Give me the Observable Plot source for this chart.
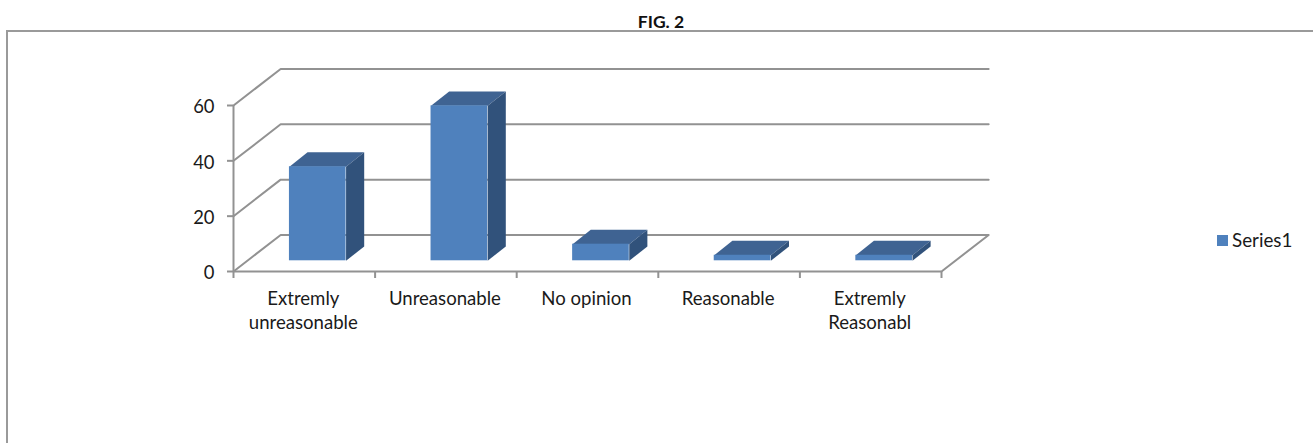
<!DOCTYPE html>
<html>
<head>
<meta charset="utf-8">
<script src="https://cdn.jsdelivr.net/npm/d3@7"></script>
<script src="https://cdn.jsdelivr.net/npm/@observablehq/plot@0.6"></script>
<style>
html,body{margin:0;padding:0;background:#fff;overflow:hidden}
body{width:1313px;height:443px;position:relative;font-family:Lato,sans-serif;color:#1a1a1a}
#title{position:absolute;left:0;width:1322px;top:12px;text-align:center;font-weight:700;font-size:17.5px;line-height:20px;color:#111}
#frame{position:absolute;left:6px;top:30px;right:0;bottom:0;border-left:2px solid #9a9a9a;border-top:2px solid #9a9a9a}
#chart{position:absolute;left:0;top:32px}
#legend{position:absolute;left:1217px;top:229px;display:flex;align-items:center;gap:4px;font-size:18.8px;line-height:22px}
#legend i{display:block;width:11px;height:11px;background:#4f81bd}
</style>
</head>
<body>
<div id="title">FIG. 2</div>
<div id="frame"></div>
<div id="chart"></div>
<div id="legend"><i></i><span>Series1</span></div>
<script>
const categories = ["Extremly\nunreasonable", "Unreasonable", "No opinion", "Reasonable", "Extremly\nReasonabl"];
const values = [34, 56, 6, 2, 2];
const yTicks = [0, 20, 40, 60];
const xTicks = [0, 1, 2, 3, 4, 5];

// oblique projection, in data units
const wallDX = 0.333, wallDY = 13.2;
const barInsetDX = 0.095, barBase = 3.87;
const barWidth = 0.4, barDX = 0.128, barDY = 5.2;
const barLeft = i => i + 0.3 + barInsetDX;

const gridColor = "#929292";
const wallLines = yTicks.flatMap(v => [
  {v, x: 0, y: v},
  {v, x: wallDX, y: v + wallDY},
  {v, x: 5 + wallDX, y: v + wallDY},
  ...(v === 0 ? [{v, x: 5, y: 0}] : [])
]);

const bars = values.map((v, i) => ({i, v, x1: barLeft(i), x2: barLeft(i) + barWidth, y1: barBase, y2: barBase + v}));
const topFaces = bars.flatMap(b => [
  {i: b.i, x: b.x1, y: b.y2},
  {i: b.i, x: b.x2, y: b.y2},
  {i: b.i, x: b.x2 + barDX, y: b.y2 + barDY},
  {i: b.i, x: b.x1 + barDX, y: b.y2 + barDY}
]);
const sideFaces = bars.flatMap(b => [
  {i: b.i, x: b.x2, y: b.y1},
  {i: b.i, x: b.x2, y: b.y2},
  {i: b.i, x: b.x2 + barDX, y: b.y2 + barDY},
  {i: b.i, x: b.x2 + barDX, y: b.y1 + barDY}
]);

const plot = Plot.plot({
  width: 1313,
  height: 411,
  marginLeft: 233,
  marginRight: 372,
  marginTop: 73,
  marginBottom: 172,
  style: {fontFamily: "Lato, sans-serif", background: "transparent"},
  x: {domain: [0, 5]},
  y: {domain: [0, 60]},
  marks: [
    Plot.line(wallLines, {x: "x", y: "y", z: "v", stroke: gridColor, strokeWidth: 2}),
    Plot.ruleX([0], {y1: 0, y2: 60, stroke: gridColor, strokeWidth: 2}),
    Plot.ruleY([0], {x1: 0, x2: 5, stroke: gridColor, strokeWidth: 2}),
    Plot.axisY({ticks: yTicks, tickSize: 6, tickFormat: () => "", stroke: gridColor, strokeWidth: 2, label: null}),
    Plot.axisX({ticks: xTicks, tickSize: 7, tickFormat: () => "", stroke: gridColor, strokeWidth: 2, label: null}),
    Plot.text(yTicks, {
      text: d => String(d),
      y: d => d,
      frameAnchor: "left",
      textAnchor: "end",
      dx: -19,
      dy: 2,
      fontSize: 18.4,
      fill: "#1a1a1a"
    }),
    Plot.line(topFaces, {x: "x", y: "y", z: "i", fill: "#3f6392", stroke: "none"}),
    Plot.line(sideFaces, {x: "x", y: "y", z: "i", fill: "#31527b", stroke: "none"}),
    Plot.rect(bars, {x1: "x1", x2: "x2", y1: "y1", y2: "y2", fill: "#4f81bd"}),
    Plot.text(categories, {
      x: (d, i) => i + 0.5,
      y: 0,
      text: d => d,
      dx: -1,
      dy: 16,
      lineHeight: 1.3,
      lineAnchor: "top",
      fontSize: 18.6,
      fill: "#1a1a1a"
    })
  ]
});
document.getElementById("chart").appendChild(plot);
</script>
</body>
</html>
